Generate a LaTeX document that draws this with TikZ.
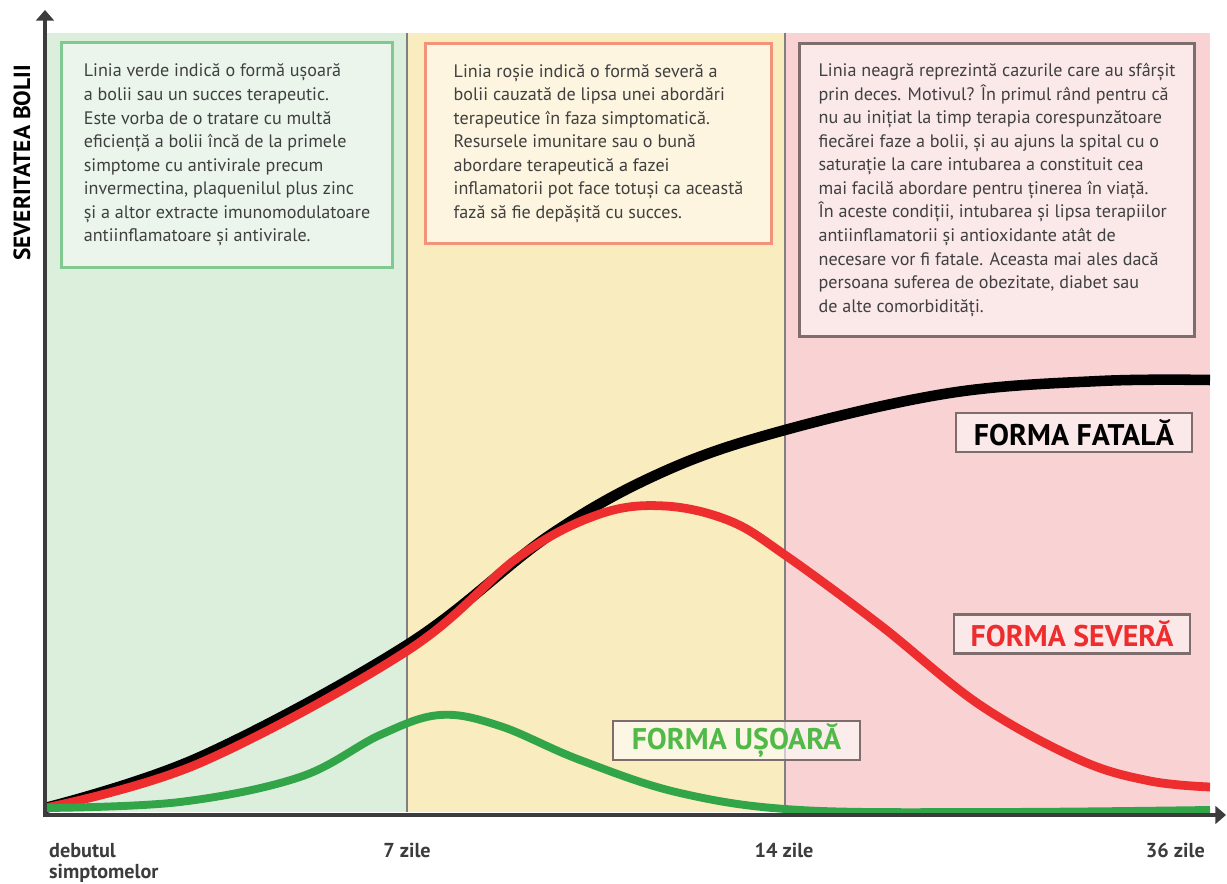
\documentclass[tikz,border=0pt]{standalone}
\usepackage{xcolor}
\usepackage{fontspec}
\setmainfont{PT Sans}
\usepackage{tikz}
\usetikzlibrary{arrows.meta}

\definecolor{bgverde}{RGB}{220,239,221}
\definecolor{bggalben}{RGB}{249,236,190}
\definecolor{bgroz}{RGB}{249,211,212}
\definecolor{notaverde}{RGB}{235,245,236}
\definecolor{chenarverde}{RGB}{128,201,145}
\definecolor{notagalben}{RGB}{253,245,223}
\definecolor{chenarsomon}{RGB}{243,147,122}
\definecolor{notaroz}{RGB}{251,232,233}
\definecolor{chenargri}{RGB}{127,108,108}
\definecolor{liniarosie}{RGB}{238,46,46}
\definecolor{liniaverde}{RGB}{50,165,72}
\definecolor{textverde}{RGB}{80,185,72}
\definecolor{axa}{RGB}{60,60,60}
\definecolor{textgri}{RGB}{64,64,64}

\begin{document}
\begin{tikzpicture}[x=0.02cm,y=-0.02cm,
      nota/.style={draw, line width=1.8pt, anchor=north west, align=left, inner sep=0pt,
        text=textgri, font=\fontsize{10.3}{13.4}\selectfont},
      eticheta/.style={draw=chenargri, line width=1.2pt, fill=notaroz, minimum width=4.72cm,
        minimum height=0.78cm, inner sep=0pt, font=\fontsize{17}{20}\selectfont\bfseries},
      zi/.style={anchor=north, text=axa, font=\fontsize{11.5}{12}\selectfont\bfseries}
      ]
      \useasboundingbox (0,0) rectangle (1227,884);

      % fazele bolii
      \fill[bgverde] (45,33) rectangle (407,812);
      \fill[bggalben] (407,33) rectangle (785,812);
      \fill[bgroz] (785,33) rectangle (1210,812);
      \draw[gray, line width=0.6pt] (407,33) -- (407,812);
      \draw[gray, line width=0.6pt] (785,33) -- (785,812);

      % explicatii
      \node[nota, draw=chenarverde, fill=notaverde, minimum width=6.62cm, minimum height=4.5cm]
        (usoara) at (60,41) {Linia verde indică o formă ușoară\\
        a bolii sau un succes terapeutic.\\
        Este vorba de o tratare cu multă\\
        eficiență a bolii încă de la primele\\
        simptome cu antivirale precum\\
        invermectina, plaquenilul plus zinc\\
        și a altor extracte imunomodulatoare\\
        antiinflamatoare și antivirale.};
      \node[nota, draw=chenarsomon, fill=notagalben, minimum width=6.92cm, minimum height=4.0cm]
        (severa) at (424,42) {Linia roșie indică o formă severă a\\
        bolii cauzată de lipsa unei abordări\\
        terapeutice în faza simptomatică.\\
        Resursele imunitare sau o bună\\
        abordare terapeutică a fazei\\
        inflamatorii pot face totuși ca această\\
        fază să fie depășită cu succes.};
      \node[nota, draw=chenargri, fill=notaroz, minimum width=7.9cm, minimum height=5.86cm]
        (fatala) at (798,42) {Linia neagră reprezintă cazurile care au sfârșit\\
        prin deces. Motivul? În primul rând pentru că\\
        nu au inițiat la timp terapia corespunzătoare\\
        fiecărei faze a bolii, și au ajuns la spital cu o\\
        saturație la care intubarea a constituit cea\\
        mai facilă abordare pentru ținerea în viață.\\
        În aceste condiții, intubarea și lipsa terapiilor\\
        antiinflamatorii și antioxidante atât de\\
        necesare vor fi fatale. Aceasta mai ales dacă\\
        persoana suferea de obezitate, diabet sau\\
        de alte comorbidități.};

      % curbele
      \draw[line width=6pt] plot[smooth, tension=0.6] coordinates {(45,808) (200,757)
        (407,645) (550,535) (665,471) (785,430) (950,393) (1100,381) (1210,380)};
      \draw[liniarosie, line width=5pt] plot[smooth, tension=0.6] coordinates {(45,808)
        (200,763) (407,651) (520,556) (600,514) (665,506) (730,521) (785,555) (880,625)
        (980,705) (1080,760) (1150,781) (1210,787)};
      \draw[liniaverde, line width=4.5pt] plot[smooth, tension=0.6] coordinates {(45,808) (180,802)
        (300,777) (380,735) (440,715) (500,726) (580,760) (680,793) (800,810) (1000,812) (1210,810)};

      % axe
      \coordinate (origine) at (45,815);
      \coordinate (sus) at (45,10);
      \coordinate (dreapta) at (1226,815);
      \draw[axa, line width=2.8pt, -{Triangle[length=6pt,width=10pt]}] ([yshift=-1.4pt]origine) -- (sus);
      \draw[axa, line width=2.8pt, -{Triangle[length=6pt,width=10pt]}] ([xshift=-1.4pt]origine) -- (dreapta);

      % etichete
      \node[eticheta] (tfatala) at (1074,432.5) {FORMA FATALĂ};
      \node[eticheta, text=liniarosie] (tsevera) at (1072,634) {FORMA SEVERĂ};
      \node[eticheta, draw=chenargri, fill=white, fill opacity=0.6, text opacity=1, text=textverde,
        minimum width=4.94cm] (tusoara) at (736.5,740.5) {FORMA UȘOARĂ};

      \node[rotate=90, text=black, font=\fontsize{13.3}{15}\selectfont\bfseries] (severitate) at (22,163)
        {SEVERITATEA BOLII};
      \node[zi, anchor=north west, align=left] (debut) at (43,837) {debutul\\simptomelor};
      \node[zi] (zi7) at (407,837) {7 zile};
      \node[zi] (zi14) at (784,837) {14 zile};
      \node[zi, anchor=north east] (zi36) at (1211,837) {36 zile};
    \end{tikzpicture}
\end{document}
